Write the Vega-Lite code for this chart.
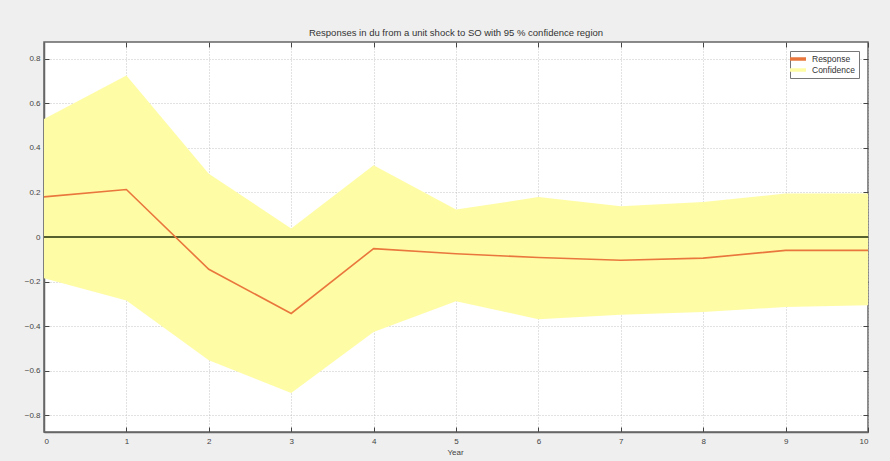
{
  "$schema": "https://vega.github.io/schema/vega-lite/v6.json",
  "width": 824,
  "height": 390,
  "autosize": "none",
  "padding": {"left": 44, "top": 42, "right": 22, "bottom": 29},
  "background": "#efefef",
  "title": {
    "text": "Responses in du from a unit shock to SO with 95 % confidence region",
    "fontSize": 9.5,
    "fontWeight": "normal",
    "font": "Liberation Sans",
    "color": "#333333",
    "offset": 4
  },
  "data": {
    "values": [
      {"year": 0, "resp": 0.18, "lo": -0.185, "hi": 0.53},
      {"year": 1, "resp": 0.213, "lo": -0.285, "hi": 0.725},
      {"year": 2, "resp": -0.145, "lo": -0.553, "hi": 0.284},
      {"year": 3, "resp": -0.343, "lo": -0.70, "hi": 0.038},
      {"year": 4, "resp": -0.052, "lo": -0.426, "hi": 0.322},
      {"year": 5, "resp": -0.075, "lo": -0.288, "hi": 0.123},
      {"year": 6, "resp": -0.092, "lo": -0.369, "hi": 0.179},
      {"year": 7, "resp": -0.104, "lo": -0.349, "hi": 0.138},
      {"year": 8, "resp": -0.095, "lo": -0.336, "hi": 0.157},
      {"year": 9, "resp": -0.060, "lo": -0.314, "hi": 0.195},
      {"year": 10, "resp": -0.060, "lo": -0.306, "hi": 0.195}
    ]
  },
  "layer": [
    {
      "mark": {"type": "area", "opacity": 1},
      "encoding": {
        "x": {
          "field": "year",
          "type": "quantitative",
          "scale": {"domain": [0, 10], "nice": false},
          "axis": {
            "values": [0, 1, 2, 3, 4, 5, 6, 7, 8, 9, 10],
            "title": "Year",
            "titleFontSize": 8,
            "titleFontWeight": "normal",
            "titleColor": "#444444",
            "titlePadding": 3,
            "titleX": 411,
            "labelPadding": 10
          }
        },
        "y": {
          "field": "lo",
          "type": "quantitative",
          "scale": {"domain": [-0.875, 0.875], "nice": false},
          "axis": {
            "values": [-0.8, -0.6, -0.4, -0.2, 0, 0.2, 0.4, 0.6, 0.8],
            "format": ".1~f",
            "title": null,
            "labelPadding": 9
          }
        },
        "y2": {"field": "hi"},
        "color": {
          "datum": "Confidence",
          "scale": {"domain": ["Response", "Confidence"], "range": ["#e9773d", "#fffca6"]},
          "legend": {
            "title": null,
            "orient": "top-right",
            "offset": 9,
            "strokeColor": "#777777",
            "fillColor": "#ffffff",
            "padding": 3,
            "rowPadding": 1,
            "labelFontSize": 8.5,
            "labelFont": "Liberation Sans",
            "labelColor": "#333333",
            "labelOffset": 9,
            "symbolType": "M-1.6,-0.35H1.6V0.35H-1.6Z",
            "symbolSize": 100,
            "symbolStrokeWidth": 0,
            "symbolOpacity": 1
          }
        }
      }
    },
    {
      "mark": {"type": "rule", "color": "#56602f", "strokeWidth": 2},
      "encoding": {
        "y": {"datum": 0, "type": "quantitative", "axis": null}
      }
    },
    {
      "mark": {"type": "line", "strokeWidth": 1.6},
      "encoding": {
        "x": {"field": "year", "type": "quantitative", "axis": null},
        "y": {"field": "resp", "type": "quantitative", "axis": null},
        "color": {"datum": "Response"}
      }
    },
    {
      "mark": {"type": "point", "opacity": 0},
      "encoding": {
        "x": {
          "field": "year",
          "type": "quantitative",
          "axis": {"orient": "top", "values": [0, 1, 2, 3, 4, 5, 6, 7, 8, 9, 10], "labels": false, "grid": false, "domain": false, "title": null}
        },
        "y": {
          "field": "resp",
          "type": "quantitative",
          "axis": {"orient": "right", "values": [-0.8, -0.6, -0.4, -0.2, 0, 0.2, 0.4, 0.6, 0.8], "labels": false, "grid": false, "domain": false, "title": null}
        }
      }
    }
  ],
  "resolve": {"axis": {"x": "independent", "y": "independent"}},
  "config": {
    "view": {"stroke": "#666666", "strokeWidth": 1.5, "fill": "#ffffff"},
    "axis": {
      "labelFont": "Liberation Sans",
      "titleFont": "Liberation Sans",
      "labelFontSize": 8,
      "labelColor": "#444444",
      "tickSize": -5,
      "tickColor": "#444444",
      "tickWidth": 1,
      "domainColor": "#666666",
      "domainWidth": 1.5,
      "grid": true,
      "gridColor": "#b5b5b5",
      "gridDash": [1, 2],
      "gridWidth": 0.8
    }
  }
}
